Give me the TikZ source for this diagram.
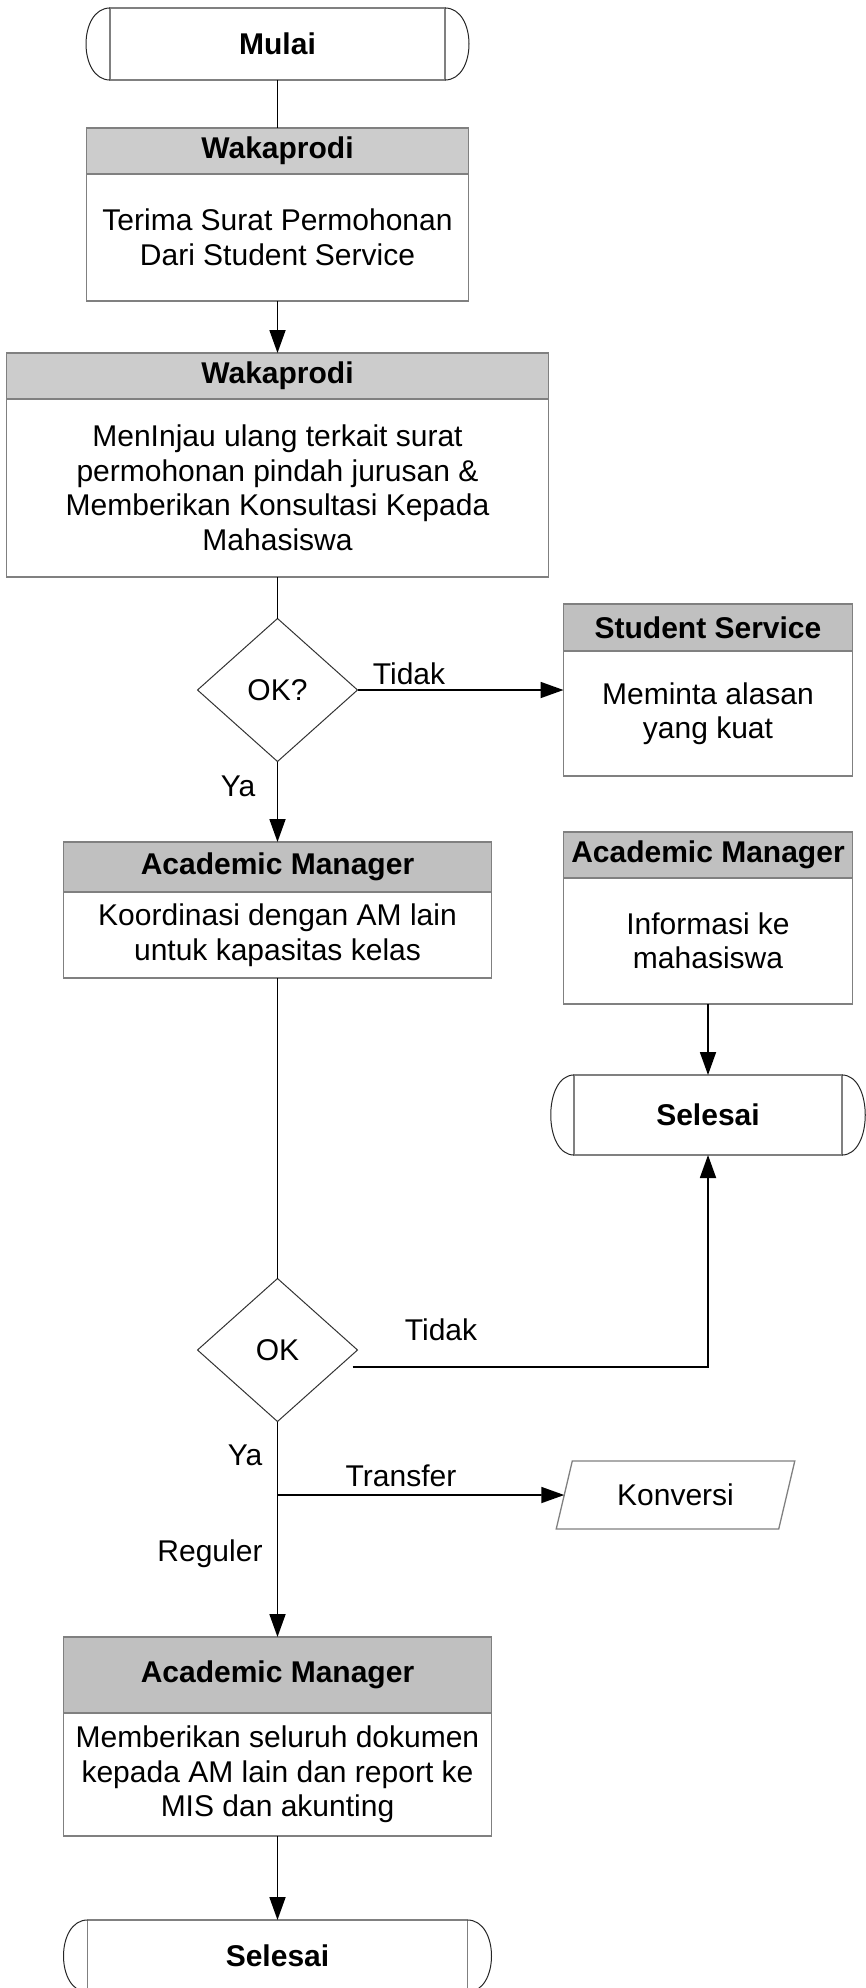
\documentclass[tikz,border=0pt]{standalone}
\usepackage{fontspec}
\setmainfont{Liberation Sans}
\usepackage{tikz}
\usetikzlibrary{arrows.meta,calc,positioning,shapes.geometric}
\definecolor{boxgray}{RGB}{128,128,128}
\definecolor{hdlight}{RGB}{204,204,204}
\definecolor{hddark}{RGB}{192,192,192}
\newcommand{\fsize}{\fontsize{30}{34.5}\selectfont}
\tikzset{
header/.style={rectangle, draw=boxgray, line width=1.3pt, inner sep=0pt, outer sep=0pt, font=\fsize\bfseries}, % grey title bar of a step
body/.style={rectangle, draw=boxgray, line width=1.3pt, inner sep=0pt, outer sep=0pt, align=center, font=\fsize}, % text part of a step
terminal/.style={rectangle, draw=boxgray, line width=1.3pt, inner sep=0pt, outer sep=0pt, font=\fsize\bfseries},
termend/.style={draw=black!85, line width=1pt}, % round ends of start / end
decision/.style={diamond, draw=black!80, line width=1pt, inner sep=0pt, outer sep=0pt, minimum width=160pt, minimum height=143pt, font=\fsize},
inout/.style={trapezium, trapezium left angle=67.6, trapezium right angle=112.4, trapezium stretches=true, draw=boxgray, line width=1.3pt, inner sep=0pt, outer sep=0pt, minimum width=239pt, minimum height=68pt, font=\fsize},
connector/.style={line width=1.8pt},
arrow/.style={connector, -{Triangle[length=23pt,width=16pt]}},
flowtext/.style={inner sep=0pt, font=\fsize, anchor=base},
}
\begin{document}
\begin{tikzpicture}[x=1pt,y=-1pt]
		\useasboundingbox (0,0) rectangle (866,1988); %set diagram size
		
		% Text Node
		\node[terminal, minimum width=335pt, minimum height=72pt] (mulai) at (277.5,44) {Mulai};
		\draw[termend] (mulai.north west) .. controls +(-32,0) and +(-32,0) .. (mulai.south west);
		\draw[termend] (mulai.north east) .. controls +(32,0) and +(32,0) .. (mulai.south east);
		% Text Node
		\node[header, fill=hdlight, minimum width=382pt, minimum height=46pt] (wak1h) at (277.5,151) {Wakaprodi};
		\node[body, below=0pt of wak1h, minimum width=382pt, minimum height=127pt] (wak1) {Terima Surat Permohonan\\Dari Student Service};
		% Text Node
		\node[header, fill=hdlight, minimum width=542pt, minimum height=46pt] (wak2h) at (277.5,376) {Wakaprodi};
		\node[body, below=0pt of wak2h, minimum width=542pt, minimum height=178pt] (wak2) {MenInjau ulang terkait surat\\permohonan pindah jurusan \&\\Memberikan Konsultasi Kepada\\Mahasiswa};
		% Text Node
		\node[decision] (ok1) at (277.5,690) {OK?};
		% Text Node
		\node[header, fill=hddark, minimum width=289pt, minimum height=47pt] (ssh) at (708,627.5) {Student Service};
		\node[body, below=0pt of ssh, minimum width=289pt, minimum height=125pt] (ss) {Meminta alasan\\yang kuat};
		% Text Node
		\node[header, fill=hddark, minimum width=428pt, minimum height=50pt] (am1h) at (277.5,867) {Academic Manager};
		\node[body, below=0pt of am1h, minimum width=428pt, minimum height=86pt] (am1) {Koordinasi dengan AM lain\\untuk kapasitas kelas};
		% Text Node
		\node[header, fill=hddark, minimum width=289pt, minimum height=46pt] (am2h) at (708,855) {Academic Manager};
		\node[body, below=0pt of am2h, minimum width=289pt, minimum height=126pt] (am2) {Informasi ke\\mahasiswa};
		% Text Node
		\node[terminal, minimum width=268pt, minimum height=80pt] (selesai1) at (708,1115) {Selesai};
		\draw[termend] (selesai1.north west) .. controls +(-31,0) and +(-31,0) .. (selesai1.south west);
		\draw[termend] (selesai1.north east) .. controls +(31,0) and +(31,0) .. (selesai1.south east);
		% Text Node
		\node[decision] (ok2) at (277.5,1350) {OK};
		% Text Node
		\node[inout] (konversi) at (675.5,1495) {Konversi};
		% Text Node
		\node[header, fill=hddark, minimum width=428pt, minimum height=76pt] (am3h) at (277.5,1675) {Academic Manager};
		\node[body, below=0pt of am3h, minimum width=428pt, minimum height=123pt] (am3) {Memberikan seluruh dokumen\\kepada AM lain dan report ke\\MIS dan akunting};
		% Text Node
		\node[terminal, minimum width=380pt, minimum height=72pt] (selesai2) at (277.5,1956) {Selesai};
		\draw[termend] (selesai2.north west) .. controls +(-32,0) and +(-32,0) .. (selesai2.south west);
		\draw[termend] (selesai2.north east) .. controls +(32,0) and +(32,0) .. (selesai2.south east);
		
		% Text Node
		\node[flowtext] (tidak1) at (409,684) {Tidak};
		\node[flowtext] (ya1) at (238,796) {Ya};
		\node[flowtext] (tidak2) at (441,1340) {Tidak};
		\node[flowtext] (ya2) at (245,1465) {Ya};
		\node[flowtext] (transfer) at (401,1486) {Transfer};
		\node[flowtext] (reguler) at (210,1561) {Reguler};
		
		% Connection
		\draw[connector] (mulai.south) -- (wak1h.north);
		\draw[arrow] (wak1.south) -- (wak2h.north);
		\draw[connector] (wak2.south) -- (ok1.north);
		% Connection
		\draw[arrow] (ok1.east) -- (ok1.east -| ss.west);
		\draw[arrow] (ok1.south) -- (am1h.north);
		\draw[connector] (am1.south) -- (ok2.north);
		% Connection
		\draw[arrow] (am2.south) -- (selesai1.north);
		\draw[arrow] ($(ok2.east)+(-5,17)$) -| (selesai1.south);
		% Connection
		\draw[arrow] (ok2.south) -- (am3h.north);
		\coordinate (split) at (277.5,1495);
		\draw[arrow] (split) -- (konversi);
		\draw[arrow] (am3.south) -- (selesai2.north);
		
\end{tikzpicture}
\end{document}
